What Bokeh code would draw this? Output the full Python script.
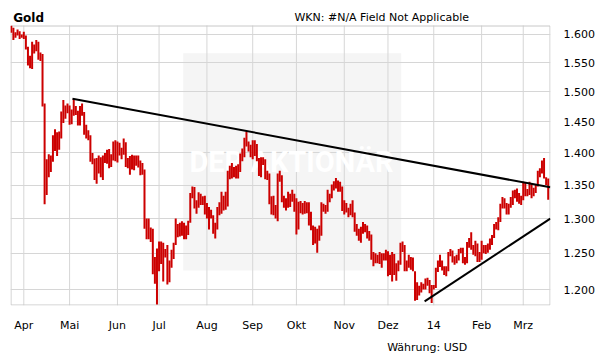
import math
import pandas as pd
from bokeh.plotting import figure
from bokeh.models import Range1d, FixedTicker, CustomJSTickFormatter, Label, ColumnDataSource, Title
from bokeh.embed import file_html
from bokeh.resources import INLINE

# ---- daily high / low (weekdays) ----
hi_mar13 = [1616, 1612, 1604, 1609, 1606, 1600]
lo_mar13 = [1603, 1590, 1594, 1598, 1592, 1594]
hi_apr13 = [1605, 1598, 1578, 1562, 1587, 1582, 1590, 1587, 1568, 1565, 1480, 1390, 1398, 1396, 1428, 1438, 1433, 1434, 1467, 1486, 1477, 1480]
lo_apr13 = [1592, 1573, 1545, 1540, 1539, 1566, 1570, 1555, 1553, 1475, 1321, 1335, 1362, 1370, 1386, 1403, 1395, 1405, 1423, 1448, 1455, 1464]
hi_may13 = [1477, 1470, 1488, 1476, 1468, 1476, 1480, 1466, 1445, 1436, 1428, 1400, 1391, 1392, 1396, 1393, 1396, 1400, 1405, 1406, 1398, 1418, 1420]
lo_may13 = [1445, 1446, 1460, 1461, 1444, 1444, 1460, 1429, 1423, 1420, 1386, 1382, 1358, 1352, 1368, 1362, 1358, 1384, 1383, 1376, 1378, 1388, 1387]
hi_jun13 = [1418, 1416, 1408, 1423, 1417, 1392, 1395, 1397, 1396, 1396, 1396, 1388, 1384, 1374, 1300, 1300, 1287, 1285, 1245, 1257]
lo_jun13 = [1385, 1396, 1390, 1397, 1378, 1376, 1366, 1374, 1373, 1380, 1377, 1365, 1366, 1285, 1270, 1270, 1266, 1221, 1208, 1180]
hi_jul13 = [1267, 1267, 1265, 1256, 1262, 1240, 1255, 1265, 1300, 1292, 1294, 1296, 1294, 1290, 1297, 1338, 1348, 1347, 1327, 1339, 1337, 1333, 1334]
lo_jul13 = [1225, 1235, 1211, 1244, 1207, 1210, 1230, 1242, 1262, 1273, 1274, 1275, 1270, 1270, 1276, 1294, 1330, 1315, 1307, 1316, 1320, 1320, 1306]
hi_aug13 = [1323, 1317, 1313, 1305, 1294, 1317, 1324, 1340, 1334, 1340, 1372, 1380, 1384, 1378, 1380, 1382, 1399, 1407, 1424, 1434, 1418, 1413]
lo_aug13 = [1300, 1284, 1300, 1278, 1271, 1284, 1305, 1307, 1312, 1313, 1318, 1359, 1360, 1362, 1360, 1360, 1370, 1387, 1393, 1410, 1402, 1393]
hi_sep13 = [1420, 1420, 1414, 1392, 1393, 1393, 1390, 1372, 1368, 1333, 1334, 1320, 1368, 1372, 1365, 1334, 1330, 1340, 1337, 1343, 1337]
lo_sep13 = [1390, 1395, 1387, 1364, 1362, 1381, 1359, 1358, 1321, 1306, 1305, 1300, 1296, 1355, 1324, 1316, 1312, 1316, 1317, 1325, 1310]
hi_oct13 = [1330, 1325, 1326, 1323, 1326, 1324, 1324, 1310, 1290, 1288, 1285, 1290, 1324, 1322, 1320, 1343, 1337, 1351, 1356, 1361, 1357, 1355, 1348]
lo_oct13 = [1277, 1284, 1308, 1306, 1307, 1308, 1290, 1283, 1262, 1264, 1251, 1268, 1275, 1310, 1307, 1310, 1324, 1330, 1342, 1345, 1340, 1340, 1311]
hi_nov13 = [1327, 1323, 1316, 1322, 1327, 1309, 1292, 1285, 1288, 1295, 1292, 1290, 1282, 1277, 1252, 1250, 1248, 1252, 1250, 1250, 1255]
lo_nov13 = [1306, 1309, 1302, 1305, 1302, 1281, 1275, 1268, 1265, 1278, 1280, 1271, 1268, 1241, 1232, 1236, 1236, 1235, 1230, 1240, 1240]
hi_dec13 = [1253, 1248, 1252, 1249, 1236, 1240, 1265, 1267, 1262, 1240, 1248, 1245, 1244, 1225, 1210, 1205, 1210, 1208, 1215, 1216, 1213, 1206]
lo_dec13 = [1218, 1220, 1211, 1220, 1212, 1225, 1234, 1252, 1225, 1225, 1230, 1227, 1225, 1185, 1186, 1192, 1196, 1200, 1200, 1205, 1195, 1182]
hi_jan14 = [1206, 1230, 1240, 1248, 1240, 1232, 1232, 1252, 1256, 1254, 1246, 1248, 1256, 1258, 1258, 1245, 1266, 1272, 1280, 1262, 1268, 1264, 1252]
lo_jan14 = [1200, 1202, 1224, 1231, 1226, 1220, 1218, 1225, 1246, 1237, 1234, 1236, 1240, 1250, 1236, 1234, 1236, 1258, 1255, 1248, 1246, 1238, 1238]
hi_feb14 = [1268, 1262, 1262, 1264, 1271, 1276, 1292, 1295, 1302, 1322, 1332, 1330, 1323, 1322, 1332, 1342, 1343, 1345, 1338, 1334]
lo_feb14 = [1241, 1250, 1249, 1251, 1255, 1262, 1272, 1284, 1283, 1295, 1315, 1315, 1306, 1306, 1316, 1320, 1330, 1325, 1322, 1320]
hi_mar14 = [1355, 1354, 1344, 1355, 1352, 1346, 1350, 1372, 1376, 1388, 1392, 1362, 1360]
lo_mar14 = [1327, 1333, 1333, 1335, 1330, 1333, 1338, 1348, 1362, 1368, 1360, 1350, 1328]

# trend lines (x in weekday index from 22 Mar 2013, y in USD)
trend_upper_x = [29.4, 259.0]
trend_upper_y = [1488, 1346.6]
trend_lower_x = [198.6, 259.0]
trend_lower_y = [1184, 1300]

month_labels = ["Apr", "Mai", "Jun", "Jul", "Aug", "Sep", "Okt", "Nov", "Dez", "14", "Feb", "Mrz"]
y_ticks = [1200, 1250, 1300, 1350, 1400, 1450, 1500, 1550, 1600]

hi = (hi_mar13 + hi_apr13 + hi_may13 + hi_jun13 + hi_jul13 + hi_aug13 + hi_sep13 +
      hi_oct13 + hi_nov13 + hi_dec13 + hi_jan14 + hi_feb14 + hi_mar14)
lo = (lo_mar13 + lo_apr13 + lo_may13 + lo_jun13 + lo_jul13 + lo_aug13 + lo_sep13 +
      lo_oct13 + lo_nov13 + lo_dec13 + lo_jan14 + lo_feb14 + lo_mar14)
dates = pd.bdate_range("2013-03-22", "2014-03-19")
assert len(dates) == len(hi) == len(lo)
idx = list(range(len(dates)))

month_start = [i for i in range(1, len(dates)) if dates[i].month != dates[i - 1].month]
assert len(month_start) == len(month_labels)

# ---- layout geometry (pixels) ----
W, H = 611, 364
FL, FR, FT, FB = 10, 550, 0, 305      # frame (top extended to hold the header texts)
CT = 25                               # top of the visible chart box

apr1 = month_start[0]
x0, x1 = apr1 - 6.39, apr1 + 253.1
ymin, ymax = 1178.6, 1616.3           # chart box bottom / top
k = (math.log(ymax) - math.log(ymin)) / (FB - CT)
ytop = math.exp(math.log(ymax) + (CT - FT) * k)


def fx(px):
    return x0 + (px - FL) / (FR - FL) * (x1 - x0)


def fy(py):
    return math.exp(math.log(ymin) + (FB - py) * k)


p = figure(width=W, height=H, output_backend="svg", toolbar_location=None,
           x_range=Range1d(x0, x1), y_range=Range1d(ymin, ytop), y_axis_type="log",
           y_axis_location="right",
           min_border_left=FL, min_border_top=FT, min_border_right=W - FR, min_border_bottom=H - FB)
p.background_fill_color = "white"
p.border_fill_color = "white"
p.outline_line_color = None

xt = FixedTicker(ticks=month_start, minor_ticks=[])
yt = FixedTicker(ticks=y_ticks, minor_ticks=[])
p.xaxis.ticker = xt
p.yaxis.ticker = yt
p.ygrid.ticker = yt
p.xgrid.visible = False
p.xaxis.major_label_overrides = {t: l for t, l in zip(month_start, month_labels)}
p.yaxis.formatter = CustomJSTickFormatter(code="return (tick/1000).toFixed(3);")
for ax in (p.xaxis[0], p.yaxis[0]):
    ax.axis_line_color = None
    ax.major_tick_line_color = None
    ax.minor_tick_line_color = None
    ax.major_label_text_font = "DejaVu Sans"
    ax.major_label_text_font_size = "11px"
    ax.major_label_text_color = "#000000"
p.xaxis.major_label_standoff = 7
p.yaxis.major_label_standoff = 7
p.ygrid.grid_line_color = "#d6d6d6"
p.ygrid.grid_line_width = 1

GRID = "#d6d6d6"

# watermark box
p.quad(left=[fx(182.7)], right=[fx(400.7)], top=[fy(52.7)], bottom=[fy(270)],
       fill_color="#f5f5f5", line_color=None, level="image")
# vertical month grid lines, limited to the chart box
p.segment(x0=month_start, x1=month_start, y0=[ymin] * len(month_start), y1=[ymax] * len(month_start),
          line_color=GRID, line_width=1, level="image")
# chart box border
p.quad(left=[fx(FL + 0.5)], right=[fx(FR - 0.5)], top=[fy(CT + 0.5)], bottom=[fy(FB - 0.5)],
       fill_color=None, line_color="#c8c8c8", line_width=1, level="image")

p.add_layout(Label(x=281, y=FB - 161, x_units="screen", y_units="screen", text="DER AKTIONÄR",
                   text_font="Roboto", text_font_style="bold", text_font_size="29px",
                   text_color="white", text_align="center", text_baseline="middle",
                   level="underlay"))

src = ColumnDataSource(dict(x=idx, hi=hi, lo=lo))
p.segment(x0="x", y0="lo", x1="x", y1="hi", source=src, line_color="#cc0000", line_width=2)

p.line(trend_upper_x, trend_upper_y, line_color="black", line_width=2)
p.line(trend_lower_x, trend_lower_y, line_color="black", line_width=2)

p.add_layout(Label(x=12.7 - FL, y=FB - 17.3, x_units="screen", y_units="screen", text="Gold",
                   text_font="DejaVu Sans", text_font_style="bold", text_font_size="12px",
                   text_color="black", text_align="left", text_baseline="alphabetic"))
p.add_layout(Label(x=381.2 - FL, y=FB - 17.3, x_units="screen", y_units="screen",
                   text="WKN: #N/A Field Not Applicable",
                   text_font="DejaVu Sans", text_font_size="11px",
                   text_color="black", text_align="center", text_baseline="alphabetic"))

cap = Title(text="Währung: USD", align="left", offset=386.7 - FL, standoff=8,
            text_font="DejaVu Sans", text_font_size="11px", text_font_style="normal",
            text_color="black")
p.add_layout(cap, "below")

open("out.html", "w").write(file_html(p, INLINE))
